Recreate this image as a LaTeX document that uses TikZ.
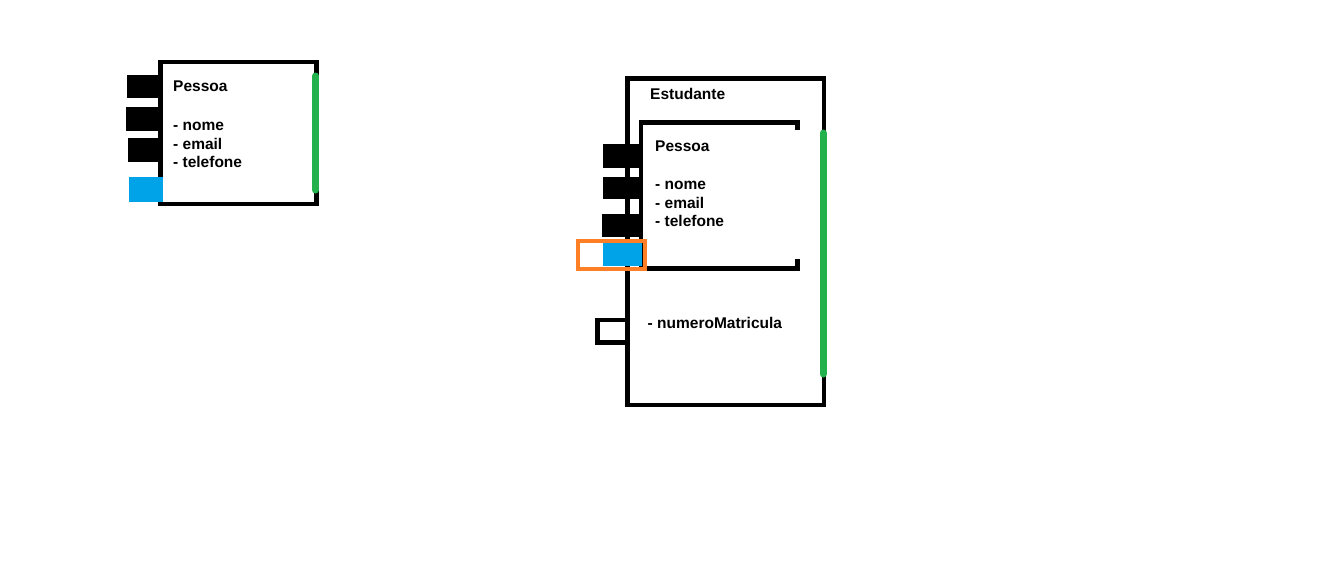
\documentclass[tikz,border=0pt]{standalone}
\usepackage{fontspec}
\setmainfont{Liberation Sans}
\definecolor{pblue}{HTML}{00A2E8}
\definecolor{pgreen}{HTML}{22B14C}
\definecolor{porange}{HTML}{FF7F27}
\tikzset{
  boxline/.style={line width=4.5pt, black},
  greenbar/.style={line width=7pt, pgreen, line cap=round},
  port/.style={fill=black, draw=none},
  blueport/.style={fill=pblue, draw=none},
  txt/.style={anchor=base west, inner sep=0pt, font=\fontsize{15.5}{19}\selectfont\bfseries}
}
\begin{document}
\begin{tikzpicture}[x=1pt,y=-1pt]
\useasboundingbox (0,0) rectangle (1340,568);
% ---------- left Pessoa box ----------
\draw[boxline] (160.5,62) rectangle (316.5,204);
\draw[greenbar] (315.5,76) -- (315.5,190);
\fill[port] (127,75) rectangle (160,98);
\fill[port] (126,107) rectangle (160,131);
\fill[port] (128,138) rectangle (160,162);
\fill[blueport] (129,177) rectangle (163,202);
\node[txt] (p1t) at (173,91.5) {Pessoa};
\node[txt] (p1a) at (173,130) {- nome};
\node[txt] (p1b) at (173,149) {- email};
\node[txt] (p1c) at (173,167.5) {- telefone};
% ---------- Estudante box ----------
\draw[boxline] (627.5,78.5) rectangle (824,405);
\draw[greenbar] (823,133) -- (823,374);
\draw[boxline] (797.5,130) -- (797.5,122.5) -- (641,122.5) -- (641,268.5) -- (797.5,268.5) -- (797.5,259);
\fill[port] (603,144) rectangle (643,168);
\fill[port] (603,177) rectangle (643,199);
\fill[port] (602,214) rectangle (643,237);
\fill[blueport] (603,243) rectangle (642,266);
\draw[line width=4.3pt, porange] (578,241) rectangle (645,269);
\draw[boxline] (597.5,320) rectangle (628,342.5);
\node[txt] (et) at (650,99.3) {Estudante};
\node[txt] (p2t) at (655,151) {Pessoa};
\node[txt] (p2a) at (655,189.3) {- nome};
\node[txt] (p2b) at (655,208.3) {- email};
\node[txt] (p2c) at (655,226.7) {- telefone};
\node[txt] (nm) at (647.5,328.3) {- numeroMatricula};
\end{tikzpicture}
\end{document}
